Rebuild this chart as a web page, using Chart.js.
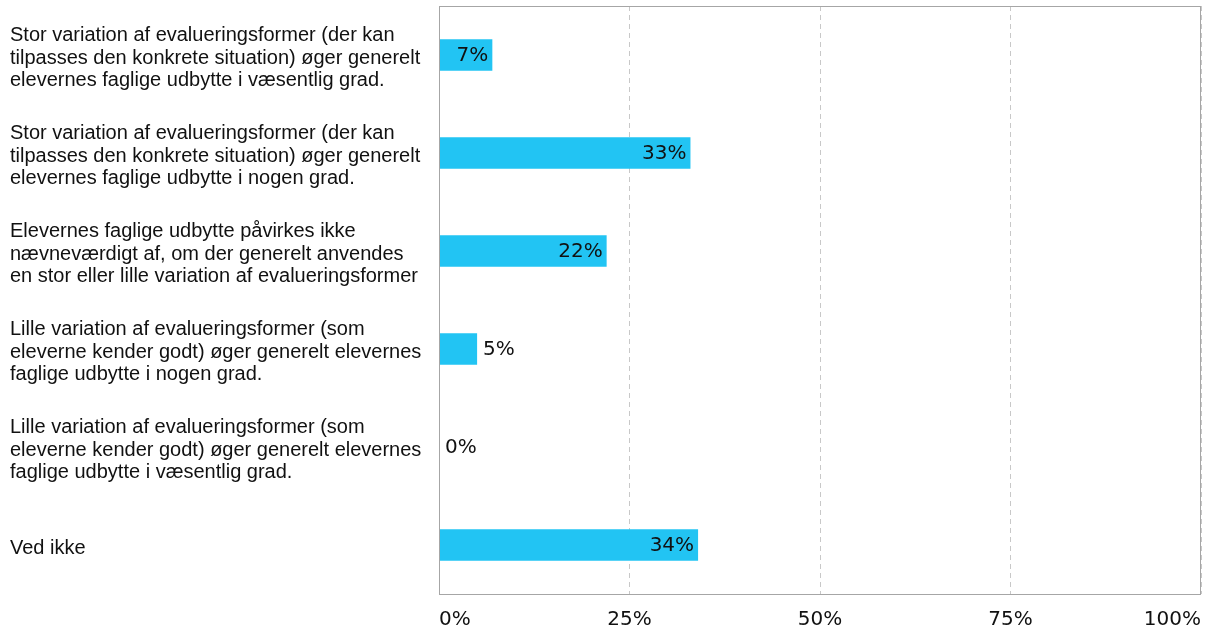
<!DOCTYPE html>
<html>
<head>
<meta charset="utf-8">
<script src="https://cdn.jsdelivr.net/npm/chart.js@4/dist/chart.umd.min.js"></script>
<style>
  html, body { margin: 0; padding: 0; background: #fff; }
  #wrap { width: 1205px; height: 628px; }
</style>
</head>
<body>
<div id="wrap"><canvas id="grafico"></canvas></div>
<script>
// kategorier (linjeskift som i originalen)
const kategorier = [
  ['Stor variation af evalueringsformer (der kan', 'tilpasses den konkrete situation) øger generelt', 'elevernes faglige udbytte i væsentlig grad.'],
  ['Stor variation af evalueringsformer (der kan', 'tilpasses den konkrete situation) øger generelt', 'elevernes faglige udbytte i nogen grad.'],
  ['Elevernes faglige udbytte påvirkes ikke', 'nævneværdigt af, om der generelt anvendes', 'en stor eller lille variation af evalueringsformer'],
  ['Lille variation af evalueringsformer (som', 'eleverne kender godt) øger generelt elevernes', 'faglige udbytte i nogen grad.'],
  ['Lille variation af evalueringsformer (som', 'eleverne kender godt) øger generelt elevernes', 'faglige udbytte i væsentlig grad.'],
  'Ved ikke'
];
const andele = [7, 33, 22, 5, 0, 34];
const xTicks = [0, 25, 50, 75, 100];

// ramme rundt om plotområdet
const ramme = {
  id: 'ramme',
  afterDraw(chart) {
    const { ctx, chartArea: a } = chart;
    ctx.save();
    ctx.strokeStyle = '#a6a6a6';
    ctx.lineWidth = 1;
    ctx.strokeRect(Math.round(a.left) + 0.5, Math.round(a.top) + 0.5,
      Math.round(a.right - a.left) - 1, Math.round(a.bottom - a.top));
    ctx.restore();
  }
};

// procenttal ved enden af søjlerne
const vaerdier = {
  id: 'vaerdier',
  afterDatasetsDraw(chart) {
    const { ctx } = chart;
    const meta = chart.getDatasetMeta(0);
    ctx.save();
    ctx.font = '20px "DejaVu Sans"';
    ctx.fillStyle = '#111';
    ctx.textBaseline = 'middle';
    meta.data.forEach((bar, i) => {
      const txt = andele[i] + '%';
      const w = ctx.measureText(txt).width;
      const bredde = bar.x - bar.base;
      if (bredde > w + 10) {
        ctx.textAlign = 'right';
        ctx.fillText(txt, bar.x - 4, bar.y + 1);
      } else {
        ctx.textAlign = 'left';
        ctx.fillText(txt, bar.x + 6, bar.y + 1);
      }
    });
    ctx.restore();
  }
};

new Chart(document.getElementById('grafico'), {
  type: 'bar',
  data: {
    labels: kategorier,
    datasets: [{
      data: andele,
      backgroundColor: '#22c4f3',
      borderWidth: 0,
      categoryPercentage: 1,
      barPercentage: 0.32
    }]
  },
  options: {
    indexAxis: 'y',
    responsive: true,
    maintainAspectRatio: false,
    animation: false,
    layout: { autoPadding: false, padding: { left: 10, right: 4, top: 6, bottom: 0 } },
    plugins: { legend: { display: false }, tooltip: { enabled: false } },
    scales: {
      x: {
        min: 0,
        max: 100,
        afterBuildTicks(axis) { axis.ticks = xTicks.map(v => ({ value: v })); },
        afterFit(axis) {
          axis.height = 34;
          axis.paddingLeft = 0;
          axis.paddingRight = 0;
        },
        grid: {
          drawTicks: false,
          color: '#c8c8c8',
          lineWidth: 1
        },
        border: { display: false, dash: [5, 4] },
        ticks: {
          align: 'inner',
          padding: 14,
          color: '#111',
          font: { family: 'DejaVu Sans', size: 20 },
          callback: v => v + '%'
        }
      },
      y: {
        afterFit(axis) {
          axis.width = 429;
          axis.paddingTop = 0;
          axis.paddingBottom = 0;
        },
        border: { display: false },
        grid: { display: false },
        ticks: {
          crossAlign: 'far',
          labelOffset: 3,
          color: '#111',
          font: { family: 'Liberation Sans', size: 20, lineHeight: 1.12 }
        }
      }
    }
  },
  plugins: [ramme, vaerdier]
});
</script>
</body>
</html>
